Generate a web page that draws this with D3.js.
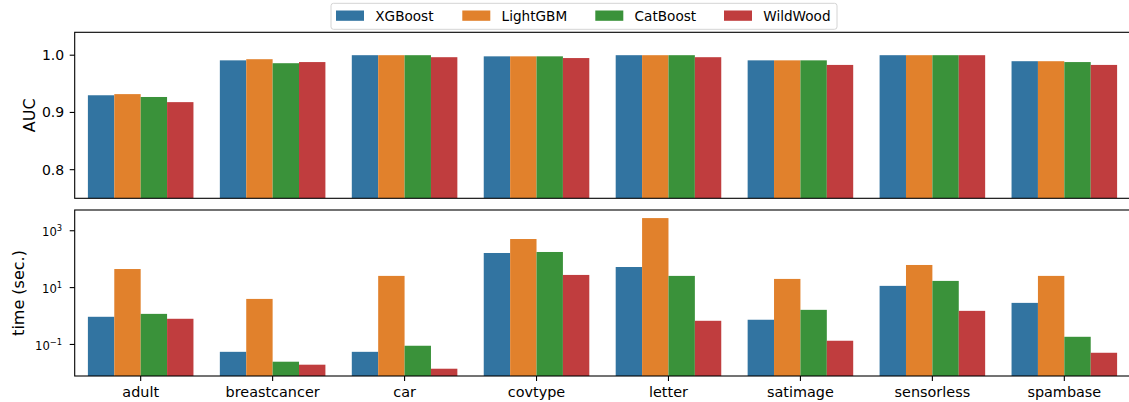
<!DOCTYPE html>
<html>
<head>
<meta charset="utf-8">
<script src="https://cdn.jsdelivr.net/npm/d3@7"></script>
<style>
  html, body { margin: 0; padding: 0; background: #fff; }
  svg { display: block; font-family: "DejaVu Sans", sans-serif; }
</style>
</head>
<body>
<svg id="chart" width="1129" height="402"></svg>
<script>
// ---- data ----
const categories = ["adult", "breastcancer", "car", "covtype", "letter", "satimage", "sensorless", "spambase"];
const models = ["XGBoost", "LightGBM", "CatBoost", "WildWood"];
const colors = ["#3274a1", "#e1812c", "#3a923a", "#c03d3e"];

const aucXGBoost  = [0.930, 0.991, 1.000, 0.998, 1.000, 0.991, 1.000, 0.9895];
const aucLightGBM = [0.932, 0.993, 1.000, 0.998, 1.000, 0.991, 1.000, 0.9895];
const aucCatBoost = [0.927, 0.986, 1.000, 0.998, 1.000, 0.991, 1.000, 0.988];
const aucWildWood = [0.918, 0.988, 0.9965, 0.995, 0.9965, 0.983, 1.000, 0.983];

const timeXGBoost  = [0.94, 0.055, 0.055, 165, 53, 0.74, 11.5, 2.9];
const timeLightGBM = [45, 4.0, 25.8, 512, 2790, 20.2, 62.5, 25.8];
const timeCatBoost = [1.19, 0.0247, 0.09, 179, 25.8, 1.65, 17.2, 0.186];
const timeWildWood = [0.80, 0.0194, 0.014, 27.9, 0.68, 0.135, 1.52, 0.051];

const aucTicks = [0.8, 0.9, 1.0];
const timeTickExps = [-1, 1, 3];

const aucSeries = [aucXGBoost, aucLightGBM, aucCatBoost, aucWildWood];
const timeSeries = [timeXGBoost, timeLightGBM, timeCatBoost, timeWildWood];

// ---- layout ----
const svg = d3.select("#chart");
const left = 74.7, right = 1130.3;
const top1 = 32.3, bot1 = 198.3;
const top2 = 210, bot2 = 376;

const x0 = d3.scaleBand().domain(categories).range([left, right]).padding(0);
const x1 = d3.scaleBand().domain(models).range([0, x0.bandwidth()]).paddingInner(0).paddingOuter(0.5);

const yAuc = d3.scaleLinear().domain([0.75, 1.04]).range([bot1, top1]);
const yTime = d3.scaleLog().domain([Math.pow(10, -2.11), Math.pow(10, 3.73)]).range([bot2, top2]);

const defs = svg.append("defs");
defs.append("clipPath").attr("id", "clip1").append("rect")
  .attr("x", left).attr("y", top1).attr("width", right - left).attr("height", bot1 - top1);
defs.append("clipPath").attr("id", "clip2").append("rect")
  .attr("x", left).attr("y", top2).attr("width", right - left).attr("height", bot2 - top2);

function flat(series) {
  const out = [];
  series.forEach((arr, mi) => arr.forEach((v, ci) => out.push({ m: models[mi], mi, c: categories[ci], v })));
  return out;
}

// top bars
svg.append("g").attr("clip-path", "url(#clip1)")
  .selectAll("rect").data(flat(aucSeries)).join("rect")
  .attr("x", d => x0(d.c) + x1(d.m))
  .attr("width", x1.bandwidth())
  .attr("y", d => yAuc(d.v))
  .attr("height", d => bot1 - yAuc(d.v))
  .attr("fill", d => colors[d.mi]);

// bottom bars
svg.append("g").attr("clip-path", "url(#clip2)")
  .selectAll("rect").data(flat(timeSeries)).join("rect")
  .attr("x", d => x0(d.c) + x1(d.m))
  .attr("width", x1.bandwidth())
  .attr("y", d => yTime(d.v))
  .attr("height", d => bot2 - yTime(d.v))
  .attr("fill", d => colors[d.mi]);

// frames
[[top1, bot1], [top2, bot2]].forEach(([t, b]) => {
  svg.append("rect").attr("x", left).attr("y", t).attr("width", right - left).attr("height", b - t)
    .attr("fill", "none").attr("stroke", "#000").attr("stroke-width", 1.1);
});

// top y axis
const gA = svg.append("g");
aucTicks.forEach(t => {
  const y = yAuc(t);
  gA.append("line").attr("x1", left - 5).attr("x2", left).attr("y1", y).attr("y2", y)
    .attr("stroke", "#000").attr("stroke-width", 1.1);
  gA.append("text").attr("x", left - 10.5).attr("y", y).attr("dy", "0.36em")
    .attr("text-anchor", "end").attr("font-size", "14px").attr("fill", "#000")
    .text(d3.format(".1f")(t));
});

// bottom y axis (log)
const gT = svg.append("g");
timeTickExps.forEach(e => {
  const y = yTime(Math.pow(10, e));
  gT.append("line").attr("x1", left - 5).attr("x2", left).attr("y1", y).attr("y2", y)
    .attr("stroke", "#000").attr("stroke-width", 1.1);
  const txt = gT.append("text").attr("x", left - 12.5).attr("y", y + 5.4)
    .attr("text-anchor", "end").attr("fill", "#000").attr("font-size", "11.6px");
  txt.append("tspan").text("10");
  txt.append("tspan").attr("dy", -5).attr("font-size", "8.4px")
    .text(e < 0 ? "\u2212" + Math.abs(e) : String(e));
});

// x axis (bottom)
const gX = svg.append("g");
categories.forEach(c => {
  const x = x0(c) + x0.bandwidth() / 2;
  gX.append("line").attr("x1", x).attr("x2", x).attr("y1", bot2).attr("y2", bot2 + 5)
    .attr("stroke", "#000").attr("stroke-width", 1.1);
  gX.append("text").attr("x", x).attr("y", 397).attr("text-anchor", "middle")
    .attr("font-size", "14.4px").attr("fill", "#000").text(c);
});

// axis labels
svg.append("text").attr("transform", `translate(35,${(top1 + bot1) / 2}) rotate(-90)`)
  .attr("text-anchor", "middle").attr("font-size", "16px").attr("fill", "#000").text("AUC");
svg.append("text").attr("transform", `translate(23.5,${(top2 + bot2) / 2}) rotate(-90)`)
  .attr("text-anchor", "middle").attr("font-size", "16px").attr("fill", "#000").text("time (sec.)");

// legend
const lg = svg.append("g");
lg.append("rect").attr("x", 331).attr("y", 3.3).attr("width", 506).attr("height", 26)
  .attr("rx", 2.5).attr("fill", "#fff").attr("fill-opacity", 0.8)
  .attr("stroke", "#d4d4d4").attr("stroke-width", 1);
const legendX = d3.scaleOrdinal().domain(models).range([336, 462.3, 595.3, 724]);
models.forEach((m, i) => {
  const lx = legendX(m);
  lg.append("rect").attr("x", lx).attr("y", 10.5).attr("width", 28).attr("height", 10.3)
    .attr("fill", colors[i]);
  lg.append("text").attr("x", lx + 39.3).attr("y", 20.8).attr("font-size", "13.6px")
    .attr("fill", "#000").text(m);
});
</script>
</body>
</html>
